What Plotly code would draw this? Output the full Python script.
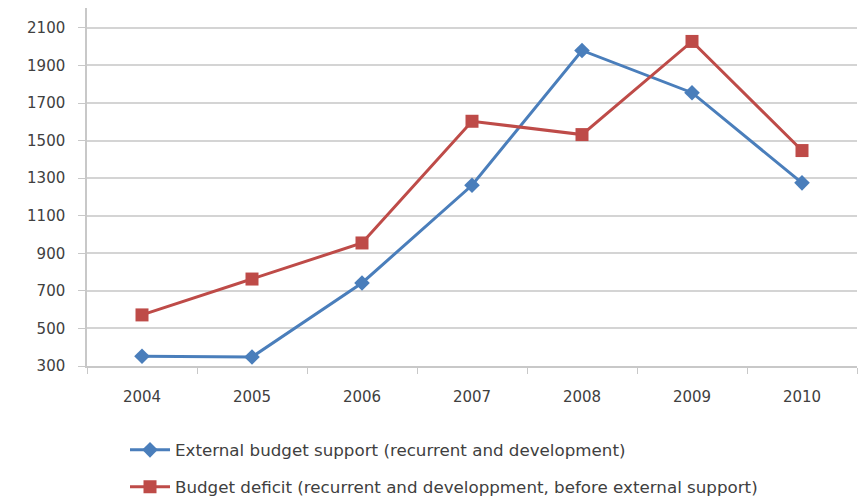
import plotly.graph_objects as go

years = ["2004", "2005", "2006", "2007", "2008", "2009", "2010"]
external_support = [352, 348, 742, 1262, 1980, 1755, 1275]
budget_deficit = [572, 763, 955, 1603, 1532, 2028, 1447]
y_ticks = [300, 500, 700, 900, 1100, 1300, 1500, 1700, 1900, 2100]

name_support = "External budget support (recurrent and development)"
name_deficit = "Budget deficit (recurrent and developpment, before external support)"

BLUE = "#4A7EBB"
RED = "#BE4B48"
TEXT = "#404040"
AXIS = "#c8c8c8"
FONT = "'DejaVu Sans', sans-serif"

fig = go.Figure()
fig.add_trace(go.Scatter(
    x=years, y=external_support, name=name_support, mode="lines+markers",
    line=dict(color=BLUE, width=3),
    marker=dict(symbol="diamond", size=12, color=BLUE),
    legend="legend",
))
fig.add_trace(go.Scatter(
    x=years, y=budget_deficit, name=name_deficit, mode="lines+markers",
    line=dict(color=RED, width=3),
    marker=dict(symbol="square", size=13, color=RED),
    legend="legend2",
))

legend_common = dict(
    orientation="v", xanchor="left", yanchor="middle",
    xref="container", yref="container",
    font=dict(family=FONT, size=16.7, color=TEXT),
    bgcolor="rgba(0,0,0,0)", itemwidth=40,
)

fig.update_layout(
    width=865, height=498,
    margin=dict(l=87, r=8, t=8, b=132, autoexpand=False),
    plot_bgcolor="white", paper_bgcolor="white",
    font=dict(family=FONT, size=15, color=TEXT),
    showlegend=True,
    legend=dict(x=125 / 865, y=1 - 450 / 498, **legend_common),
    legend2=dict(x=125 / 865, y=1 - 487 / 498, **legend_common),
    xaxis=dict(
        type="category", tickson="boundaries", ticks="outside", ticklen=6,
        tickcolor=AXIS, showline=True, linecolor=AXIS, linewidth=1.5,
        showgrid=False, tickfont=dict(size=15, color=TEXT),
        ticklabelstandoff=16, range=[-0.5, 6.5],
    ),
    yaxis=dict(
        range=[300, 2206], tickvals=y_ticks, ticks="outside", ticklen=7,
        tickcolor=AXIS, showline=True, linecolor=AXIS, linewidth=1.5,
        showgrid=True, gridcolor="#d4d4d4", gridwidth=1.5, zeroline=False,
        tickfont=dict(size=15, color=TEXT), ticklabelstandoff=10,
    ),
)

fig.write_html("out.html")
